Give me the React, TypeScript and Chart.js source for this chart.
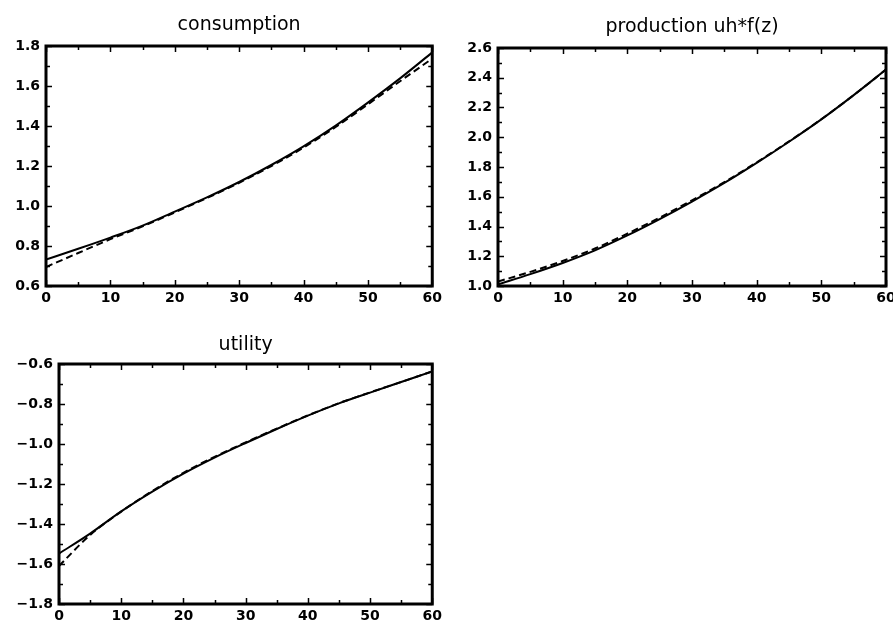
import React, { useEffect, useRef } from "react";
import { Chart, registerables } from "chart.js";

Chart.register(...registerables);

// Horizontal positions of the observations (periods)
const periods = [0, 5, 10, 15, 20, 25, 30, 35, 40, 45, 50, 55, 60];

// consumption: solid = exact path, dashed = approximation
const consumptionSolid = [0.732, 0.786, 0.842, 0.902, 0.972, 1.043, 1.12, 1.205, 1.298, 1.402, 1.517, 1.638, 1.768];
const consumptionDashed = [0.695, 0.765, 0.834, 0.898, 0.968, 1.04, 1.116, 1.2, 1.292, 1.395, 1.508, 1.624, 1.737];

// production uh*f(z)
const productionSolid = [1.01, 1.08, 1.155, 1.24, 1.34, 1.45, 1.568, 1.693, 1.828, 1.97, 2.12, 2.283, 2.455];
const productionDashed = [1.03, 1.095, 1.168, 1.252, 1.352, 1.46, 1.576, 1.698, 1.831, 1.972, 2.121, 2.283, 2.455];

// utility
const utilitySolid = [-1.548, -1.448, -1.337, -1.238, -1.148, -1.068, -0.995, -0.925, -0.858, -0.797, -0.743, -0.69, -0.637];
const utilityDashed = [-1.61, -1.455, -1.338, -1.235, -1.144, -1.064, -0.992, -0.923, -0.857, -0.796, -0.742, -0.69, -0.637];

// Axis ranges
const xRange = [0, 60];
const xTickStep = 10;
const consumptionRange = [0.6, 1.8];
const productionRange = [1.0, 2.6];
const utilityRange = [-1.8, -0.6];
const yTickStep = 0.2;

const titles = ["consumption", "production uh*f(z)", "utility"];

type PanelSpec = {
  title: string;
  solid: number[];
  dashed: number[];
  yRange: number[];
  box: { left: number; top: number; width: number; height: number };
  yAxisWidth: number;
  xAxisHeight: number;
  padRight: number;
  titlePad: { top: number; bottom: number };
};

const panels: PanelSpec[] = [
  {
    title: titles[0],
    solid: consumptionSolid,
    dashed: consumptionDashed,
    yRange: consumptionRange,
    box: { left: 0, top: 0, width: 446, height: 310 },
    yAxisWidth: 46,
    xAxisHeight: 24,
    padRight: 12,
    titlePad: { top: 13.6, bottom: 9.6 },
  },
  {
    title: titles[1],
    solid: productionSolid,
    dashed: productionDashed,
    yRange: productionRange,
    box: { left: 446, top: 0, width: 454, height: 310 },
    yAxisWidth: 52,
    xAxisHeight: 24,
    padRight: 14,
    titlePad: { top: 15.6, bottom: 9.6 },
  },
  {
    title: titles[2],
    solid: utilitySolid,
    dashed: utilityDashed,
    yRange: utilityRange,
    box: { left: 0, top: 310, width: 446, height: 330 },
    yAxisWidth: 59,
    xAxisHeight: 36,
    padRight: 13,
    titlePad: { top: 23.6, bottom: 7.6 },
  },
];

// Heavy frame plus inward tick marks on all four sides
const framePlugin = {
  id: "frameTicks",
  afterDraw(chart: any) {
    const { ctx, chartArea } = chart;
    const xs = chart.scales.x;
    const ys = chart.scales.y;
    const { left, right, top, bottom } = chartArea;
    ctx.save();
    ctx.strokeStyle = "#000";
    ctx.lineWidth = 1.5;
    ctx.beginPath();
    const yMin = ys.min;
    const yMax = ys.max;
    const yMinor = yTickStep / 2;
    const nY = Math.round((yMax - yMin) / yMinor);
    for (let i = 0; i <= nY; i++) {
      const v = yMin + i * yMinor;
      const py = Math.round(ys.getPixelForValue(v)) + 0.5;
      const len = i % 2 === 0 ? 6 : 4;
      ctx.moveTo(left, py);
      ctx.lineTo(left + len, py);
      ctx.moveTo(right, py);
      ctx.lineTo(right - len, py);
    }
    const xMinor = xTickStep / 2;
    const nX = Math.round((xs.max - xs.min) / xMinor);
    for (let i = 0; i <= nX; i++) {
      const v = xs.min + i * xMinor;
      const px = Math.round(xs.getPixelForValue(v)) + 0.5;
      const len = i % 2 === 0 ? 6 : 4;
      ctx.moveTo(px, bottom);
      ctx.lineTo(px, bottom - len);
      ctx.moveTo(px, top);
      ctx.lineTo(px, top + len);
    }
    ctx.stroke();
    ctx.lineWidth = 3;
    ctx.strokeRect(left, top, right - left, bottom - top);
    ctx.restore();
  },
};

const tickFont = { family: "'DejaVu Sans', sans-serif", size: 14, weight: "bold" as const };

function Panel({ spec }: { spec: PanelSpec }) {
  const ref = useRef<HTMLCanvasElement | null>(null);

  useEffect(() => {
    if (!ref.current) return;
    const toPoints = (vals: number[]) => periods.map((x, i) => ({ x, y: vals[i] }));
    const chart = new Chart(ref.current, {
      type: "line",
      data: {
        datasets: [
          {
            data: toPoints(spec.solid),
            borderColor: "#000",
            borderWidth: 2,
            pointRadius: 0,
            cubicInterpolationMode: "monotone",
            fill: false,
          },
          {
            data: toPoints(spec.dashed),
            borderColor: "#000",
            borderWidth: 2,
            borderDash: [7, 4],
            pointRadius: 0,
            cubicInterpolationMode: "monotone",
            fill: false,
          },
        ],
      },
      options: {
        responsive: false,
        animation: false,
        devicePixelRatio: 1,
        layout: { padding: { left: 0, top: 0, bottom: 0, right: spec.padRight } },
        plugins: {
          legend: { display: false },
          tooltip: { enabled: false },
          title: {
            display: true,
            text: spec.title,
            fullSize: false,
            color: "#000",
            font: { family: "'DejaVu Sans', sans-serif", size: 19, weight: "normal", lineHeight: 1.2 },
            padding: spec.titlePad,
          },
        },
        scales: {
          x: {
            type: "linear",
            min: xRange[0],
            max: xRange[1],
            grid: { display: false, drawTicks: false },
            border: { display: false },
            ticks: {
              stepSize: xTickStep,
              color: "#000",
              font: tickFont,
              padding: 4,
              maxRotation: 0,
              callback: (v: any) => String(v),
            },
            afterFit: (scale: any) => {
              scale.height = spec.xAxisHeight;
            },
          },
          y: {
            type: "linear",
            min: spec.yRange[0],
            max: spec.yRange[1],
            grid: { display: false, drawTicks: false },
            border: { display: false },
            ticks: {
              stepSize: yTickStep,
              color: "#000",
              font: tickFont,
              padding: 6,
              callback: (v: any) => Number(v).toFixed(1).replace("-", "\u2212"),
            },
            afterFit: (scale: any) => {
              scale.width = spec.yAxisWidth;
            },
          },
        },
      },
      plugins: [framePlugin],
    } as any);
    return () => chart.destroy();
  }, [spec]);

  const { left, top, width, height } = spec.box;
  return (
    <canvas
      ref={ref}
      width={width}
      height={height}
      style={{ position: "absolute", left, top, width, height }}
    />
  );
}

export default function App() {
  return (
    <div
      style={{
        position: "absolute",
        left: 0,
        top: 0,
        width: 893,
        height: 621,
        overflow: "hidden",
        background: "#fff",
      }}
    >
      {panels.map((p) => (
        <Panel key={p.title} spec={p} />
      ))}
    </div>
  );
}
